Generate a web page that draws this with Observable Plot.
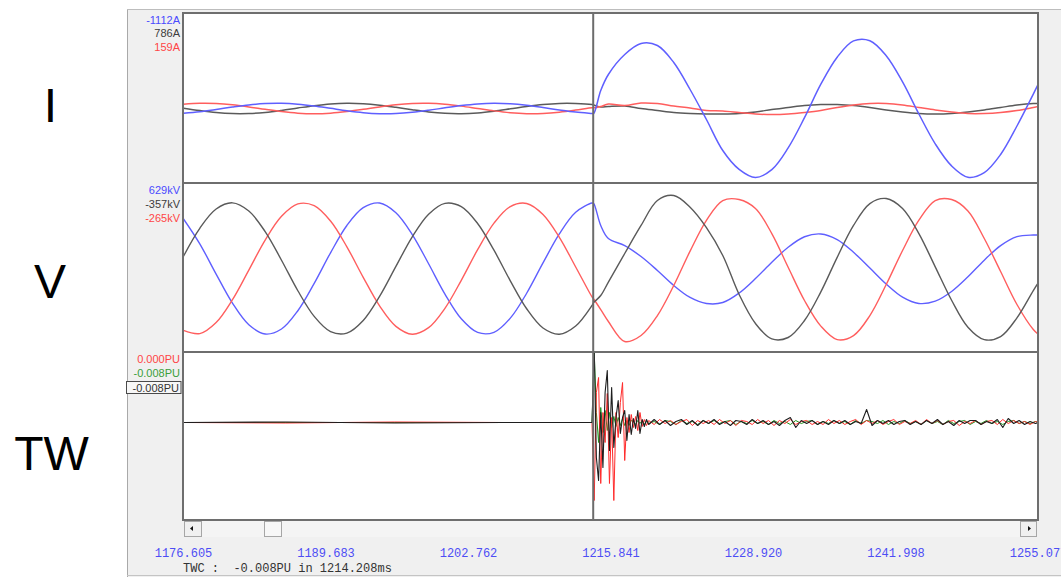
<!DOCTYPE html>
<html>
<head>
<meta charset="utf-8">
<script src="https://cdn.jsdelivr.net/npm/d3@7"></script>
<script src="https://cdn.jsdelivr.net/npm/@observablehq/plot@0.6"></script>
<style>
html,body{margin:0;padding:0;background:#fff;overflow:hidden;}
#root{position:relative;width:1061px;height:577px;font-family:"Liberation Sans",Arial,sans-serif;}
#root > svg{position:absolute;}
</style>
</head>
<body>
<div id="root"></div>
<script>
// ---------- data ----------
const xDomain = [1176.605, 1255.077];
const xTicks = [1176.605, 1189.683, 1202.762, 1215.841, 1228.920, 1241.998, 1255.077];
const cursorTime = 1214.208;

// sample times (ms) for current and voltage traces
const tIV = [1176.605, 1178.1, 1179.6, 1181.1, 1182.6, 1184.1, 1185.6, 1187.1, 1188.6, 1190.1, 1191.6, 1193.1, 1194.6, 1196.1, 1197.6, 1199.1, 1200.6, 1202.1, 1203.6, 1205.1, 1206.6, 1208.1, 1209.6, 1211.1, 1212.6, 1214.1, 1214.25, 1214.9, 1215.6, 1217.1, 1218.6, 1220.1, 1221.6, 1223.1, 1224.6, 1226.1, 1227.6, 1229.1, 1230.6, 1232.1, 1233.6, 1235.1, 1236.6, 1238.1, 1239.6, 1241.1, 1242.6, 1244.1, 1245.6, 1247.1, 1248.6, 1250.1, 1251.6, 1253.1, 1254.6, 1255.077];

// currents (A)
const iBlue = [-1041, -705, -215, 321, 788, 1082, 1141, 951, 554, 36, -490, -909, -1129, -1104, -838, -390, 144, 646, 1007, 1150, 1041, 705, 215, -321, -788, -1082, -1112, 3960, 7480, 11880, 14300, 13860, 10120, 4180, -2420, -9240, -13400, -15180, -13460, -8670, -2020, 5350, 11290, 14870, 14920, 11620, 5850, -1210, -7770, -12630, -15110, -14100, -10120, -3850, 3170, 5460];
const iBlack = [72, -457, -887, -1122, -1114, -863, -423, 108, 616, 990, 1148, 1056, 733, 251, -286, -760, -1069, -1145, -971, -585, -72, 457, 887, 1122, 1114, 863, 786, 330, 440, 550, 0, -440, -880, -1100, -1210, -1210, -1100, -770, -220, 220, 660, 880, 880, 660, 220, -330, -770, -1100, -1210, -1100, -770, -330, 220, 770, 1100, 1100];
const iRed = [930, 1136, 1094, 813, 355, -180, -676, -1025, -1150, -1025, -676, -180, 355, 813, 1094, 1136, 930, 522, 0, -522, -930, -1136, -1094, -813, -355, 180, 159, 440, 990, 660, 1210, 1100, 550, 110, -440, -550, -880, -1210, -1320, -1210, -880, -440, 220, 770, 1100, 1100, 770, 220, -330, -770, -1100, -1100, -880, -440, 220, 440];

// voltages (kV)
const vBlue = [480, 239, -54, -335, -544, -633, -585, -408, -144, 152, 416, 588, 633, 539, 328, 46, -247, -486, -618, -617, -480, -239, 54, 335, 544, 633, 629, 416, 290, 222, 116, -19, -164, -280, -338, -329, -237, -97, 60, 205, 307, 334, 280, 157, 5, -150, -277, -338, -316, -222, -80, 81, 222, 309, 324, 324];
const vBlack = [119, 389, 575, 635, 556, 357, 80, -215, -463, -610, -624, -502, -270, 20, 306, 525, 630, 598, 435, 177, -119, -389, -575, -635, -556, -357, -330, -261, -131, 145, 416, 658, 706, 593, 396, 126, -251, -532, -681, -667, -503, -226, 108, 416, 628, 677, 580, 338, 16, -307, -568, -688, -658, -477, -213, -135];
const vRed = [-599, -629, -522, -301, -15, 275, 505, 625, 608, 459, 210, -85, -361, -559, -635, -572, -385, -114, 182, 439, 599, 629, 522, 301, 15, -275, -295, -397, -512, -706, -648, -455, -164, 168, 466, 657, 667, 580, 338, 12, -309, -557, -687, -648, -455, -155, 174, 467, 657, 667, 557, 290, -29, -348, -590, -638];

// travelling-wave channels (PU)
const tTW = [1176.605, 1186, 1196, 1206,
  1214.1, 1214.3, 1214.5, 1214.7, 1214.9, 1215.1, 1215.3, 1215.5, 1215.7, 1215.9, 1216.1, 1216.3, 1216.5, 1216.7, 1216.9, 1217.1, 1217.3, 1217.5, 1217.7, 1217.9, 1218.1, 1218.3, 1218.5, 1218.7, 1218.9, 1219.1, 1219.3,
  1219.8, 1220.3, 1220.8, 1221.3, 1221.8, 1222.3, 1222.8, 1223.3, 1223.8, 1224.3,
  1224.8, 1225.3, 1225.8, 1226.3, 1226.8, 1227.3, 1227.8, 1228.3, 1228.8, 1229.3,
  1229.8, 1230.3, 1230.8, 1231.3, 1231.8, 1232.3, 1232.8, 1233.3, 1233.8, 1234.3,
  1234.8, 1235.3, 1235.8, 1236.3, 1236.8, 1237.3, 1237.8, 1238.3, 1238.8, 1239.3,
  1239.8, 1240.3, 1240.8, 1241.3, 1241.8, 1242.3, 1242.8, 1243.3, 1243.8, 1244.3,
  1244.8, 1245.3, 1245.8, 1246.3, 1246.8, 1247.3, 1247.8, 1248.3, 1248.8, 1249.3,
  1249.8, 1250.3, 1250.8, 1251.3, 1251.8, 1252.3, 1252.8, 1253.3, 1253.8, 1254.3, 1254.8,
  1255.077];
const twBlack = [0, 0.005, -0.005, 0,
  0, 0.75, -0.35, -0.58, 0.10, -0.45, 0.30, 0.52, -0.28, 0.35, -0.25, 0.05, 0.22, -0.11, 0.05, 0.12, -0.18, 0.08, -0.12, 0.04, -0.06, 0.12, -0.11, 0.03, -0.04, 0.03, -0.02,
  0.03, -0.02, 0.02, -0.03, 0.01, 0.03, -0.02, 0.02, -0.03, 0.02,
  -0.01, 0.03, -0.02, 0.01, -0.03, 0.02, 0.01, -0.02, 0.03, -0.01,
  0.02, -0.02, 0.01, -0.03, 0.02, 0.05, -0.05, 0.02, -0.01, 0.02,
  -0.02, 0.01, -0.02, 0.02, -0.01, 0.02, -0.02, 0.01, -0.01, 0.13,
  -0.03, 0.02, -0.01, 0.02, -0.02, 0.01, 0.02, -0.02, 0.01, -0.02,
  0.02, -0.01, 0.03, -0.02, 0.01, -0.03, 0.02, -0.01, 0.02, 0.02,
  -0.02, 0.01, -0.01, 0.03, -0.05, 0.04, -0.01, 0.02, -0.02, 0.01, -0.01,
  0];
const twRed = [0, -0.005, 0.005, 0,
  0, -0.78, 0.30, 0.45, -0.61, 0.10, -0.20, 0.29, -0.61, 0.05, -0.78, 0.10, -0.15, 0.20, 0.40, -0.38, 0.05, -0.10, 0.08, -0.05, 0.06, -0.08, 0.10, -0.04, 0.03, -0.03, 0.02,
  -0.02, 0.03, -0.01, 0.02, -0.02, 0.01, 0.03, -0.03, 0.02, -0.01,
  0.02, -0.02, 0.03, -0.01, 0.02, -0.03, 0.02, 0.01, -0.02, 0.03,
  -0.01, 0.02, -0.03, 0.02, -0.01, 0.03, -0.02, 0.01, 0.02, -0.02,
  0.01, -0.02, 0.03, -0.01, 0.02, -0.02, 0.01, 0.03, -0.02, 0.02,
  -0.01, 0.02, -0.02, 0.01, 0.03, -0.02, 0.01, -0.01, 0.02, -0.02,
  0.03, -0.01, 0.02, -0.02, 0.01, 0.02, -0.03, 0.01, -0.01, 0.02,
  -0.02, 0.01, 0.02, -0.02, 0.03, -0.01, 0.02, -0.01, 0.01, -0.02, 0.01,
  0];
const twGreen = [0, 0, 0, 0,
  0, 0.70, 0.10, -0.20, 0.15, -0.10, 0.12, -0.08, 0.10, -0.05, 0.06, -0.04, 0.05, -0.03, 0.04, -0.03, 0.02, -0.03, 0.02, 0.01, -0.02, 0.02, -0.01, 0.02, -0.02, 0.01, -0.01,
  0.01, -0.02, 0.02, 0.01, -0.02, 0.02, -0.01, 0.01, -0.02, 0.02,
  -0.01, 0.02, -0.01, 0.01, 0.02, -0.02, 0.01, -0.01, 0.02, -0.01,
  0.01, -0.02, 0.02, -0.01, 0.01, -0.02, 0.02, -0.01, 0.01, 0.02,
  -0.02, 0.01, -0.01, 0.02, -0.01, 0.01, -0.02, 0.02, -0.01, 0.02,
  0.01, -0.01, 0.02, -0.02, 0.01, -0.01, 0.02, -0.01, 0.01, -0.02,
  0.02, -0.01, 0.01, -0.02, 0.02, -0.01, 0.01, 0.02, -0.02, 0.01,
  -0.01, 0.02, -0.01, 0.01, -0.02, 0.01, 0.02, -0.01, 0.01, -0.01, 0.01,
  0];

// panel names and cursor readouts
const panelNames = ["I", "V", "TW"];
const iLabels = ["-1112A", "786A", "159A"];
const vLabels = ["629kV", "-357kV", "-265kV"];
const twLabels = ["0.000PU", "-0.008PU", "-0.008PU"];
const caption = "TWC :  -0.008PU in 1214.208ms";

// ---------- colours ----------
const C = {blue: "#5f5fff", black: "#5a5a5a", red: "#ff5e5e",
           twBlack: "#1e1e1e", twRed: "#ff2b2b", twGreen: "#1f941f"};

// ---------- layout ----------
const root = document.getElementById("root");
const NS = "http://www.w3.org/2000/svg";
const PX0 = 183, PW = 855;
function el(tag, attrs, parent, text) {
  const e = document.createElementNS(NS, tag);
  for (const k in attrs) e.setAttribute(k, attrs[k]);
  if (text != null) e.textContent = text;
  parent.appendChild(e);
  return e;
}
// underlay: window panel
const under = el("svg", {width: 1061, height: 577}, root);
under.style.left = "0px"; under.style.top = "0px";
el("rect", {x: 127, y: 9, width: 934, height: 568, fill: "#f0f0f0"}, under);
el("line", {x1: 127.5, y1: 9, x2: 127.5, y2: 577, stroke: "#a9a9a9"}, under);
el("line", {x1: 127, y1: 9.5, x2: 1061, y2: 9.5, stroke: "#bdbdbd"}, under);
el("line", {x1: 127, y1: 575.5, x2: 1061, y2: 575.5, stroke: "#c4c4c4"}, under);
el("rect", {x: PX0, y: 13, width: PW, height: 507, fill: "#ffffff"}, under);

function panel(series, yDomain, top, height, curve) {
  const svg = Plot.plot({
    width: PW, height, marginTop: 0, marginBottom: 0, marginLeft: 0, marginRight: 0,
    x: {domain: xDomain, axis: null},
    y: {domain: yDomain, axis: null},
    style: {background: "transparent", overflow: "hidden"},
    marks: [
      ...series.map(s => Plot.lineY(s.values, {x: s.time, stroke: s.color, strokeWidth: s.width, curve, clip: true})),
      Plot.ruleX([cursorTime], {stroke: "#6c6c6c", strokeWidth: 2})
    ]
  });
  svg.style.left = PX0 + "px";
  svg.style.top = top + "px";
  root.appendChild(svg);
}
panel([
  {values: iBlack, time: tIV, color: C.black, width: 1.5},
  {values: iRed, time: tIV, color: C.red, width: 1.5},
  {values: iBlue, time: tIV, color: C.blue, width: 1.5}
], [-16500, 20900], 13, 170, "catmull-rom");
panel([
  {values: vBlue, time: tIV, color: C.blue, width: 1.4},
  {values: vRed, time: tIV, color: C.red, width: 1.4},
  {values: vBlack, time: tIV, color: C.black, width: 1.4}
], [-812, 822], 183, 169, "catmull-rom");
panel([
  {values: twGreen, time: tTW, color: C.twGreen, width: 1},
  {values: twRed, time: tTW, color: C.twRed, width: 1},
  {values: twBlack, time: tTW, color: C.twBlack, width: 1.1}
], [-0.98, 0.70], 352, 168, "linear");

// time axis
const axisSvg = Plot.plot({
  width: 1061, height: 30, marginLeft: PX0, marginRight: 1061 - PX0 - PW, marginTop: 10, marginBottom: 20,
  x: {domain: xDomain},
  style: {background: "transparent", overflow: "visible"},
  marks: [
    Plot.axisX(xTicks, {anchor: "bottom", tickSize: 0, tickPadding: 0, tickFormat: d => d.toFixed(3),
      color: "#4d4df5", fontSize: 12, fontFamily: "'Liberation Mono', 'DejaVu Sans Mono', monospace", label: null})
  ]
});
axisSvg.style.left = "0px";
axisSvg.style.top = "538px";
root.appendChild(axisSvg);

// overlay: frame, separators, scrollbar, labels
const over = el("svg", {width: 1061, height: 577}, root);
over.style.left = "0px"; over.style.top = "0px"; over.style.pointerEvents = "none";
el("rect", {x: PX0, y: 13, width: PW, height: 507, fill: "none", stroke: "#6e6e6e", "stroke-width": 2}, over);
el("line", {x1: PX0, x2: PX0 + PW, y1: 183, y2: 183, stroke: "#6e6e6e", "stroke-width": 2}, over);
el("line", {x1: PX0, x2: PX0 + PW, y1: 352, y2: 352, stroke: "#6e6e6e", "stroke-width": 2}, over);
// scrollbar
el("rect", {x: 184, y: 521, width: 853, height: 16, fill: "#f4f4f4"}, over);
el("rect", {x: 184.5, y: 521.5, width: 17, height: 15, fill: "#f0f0f0", stroke: "#a6a6a6"}, over);
el("polygon", {points: "190,528.5 193,526 193,531", fill: "#111"}, over);
el("rect", {x: 264.5, y: 521.5, width: 17, height: 15, fill: "#f7f7f7", stroke: "#a6a6a6"}, over);
el("rect", {x: 1020.5, y: 521.5, width: 16, height: 15, fill: "#f0f0f0", stroke: "#a6a6a6"}, over);
el("polygon", {points: "1031,528.5 1028,526 1028,531", fill: "#111"}, over);

// big panel names
const bigFont = {"font-family": "'Liberation Sans', Arial, sans-serif", "font-size": 48, "text-anchor": "middle", fill: "#000"};
el("text", {...bigFont, x: 50.5, y: 122}, over, panelNames[0]);
el("text", {...bigFont, x: 50, y: 298}, over, panelNames[1]);
el("text", {...bigFont, x: 51.5, y: 470}, over, panelNames[2]);

// cursor readouts
const small = {"font-family": "'Liberation Sans', Arial, sans-serif", "font-size": 11, "text-anchor": "end"};
el("text", {...small, x: 180, y: 23.5, fill: "#4a4aff"}, over, iLabels[0]);
el("text", {...small, x: 180, y: 37.3, fill: "#3c3c3c"}, over, iLabels[1]);
el("text", {...small, x: 180, y: 51.3, fill: "#ff4545"}, over, iLabels[2]);
el("text", {...small, x: 180, y: 193.5, fill: "#4a4aff"}, over, vLabels[0]);
el("text", {...small, x: 180, y: 207.5, fill: "#3c3c3c"}, over, vLabels[1]);
el("text", {...small, x: 180, y: 221.5, fill: "#ff4545"}, over, vLabels[2]);
el("text", {...small, x: 180, y: 363.3, fill: "#ff4545"}, over, twLabels[0]);
el("text", {...small, x: 180, y: 377.3, fill: "#3a9e3a"}, over, twLabels[1]);
el("rect", {x: 126.5, y: 381.5, width: 54.5, height: 12, fill: "#f7f7f7", stroke: "#4a4a4a"}, over);
el("text", {...small, x: 179, y: 391.5, fill: "#333"}, over, twLabels[2]);

// caption
const cap = el("text", {x: 183, y: 572, "font-family": "'Liberation Mono', 'DejaVu Sans Mono', monospace", "font-size": 12, fill: "#333"}, over, caption);
cap.style.whiteSpace = "pre";
</script>
</body>
</html>
